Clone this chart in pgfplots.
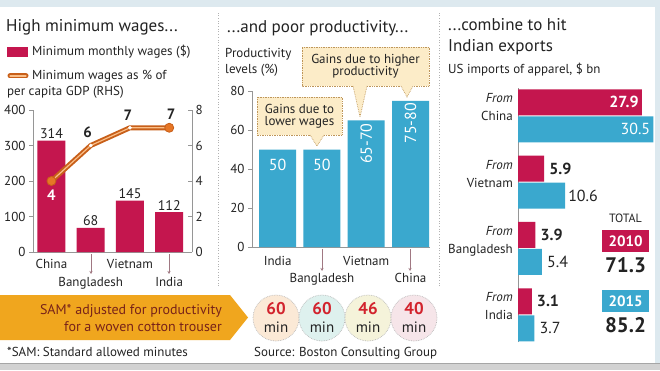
\documentclass[border=0pt]{standalone}
\usepackage{pgfplots}
\pgfplotsset{compat=1.18}
\usepackage{fontspec}
\setmainfont{PT Sans}
\usetikzlibrary{arrows.meta}
\definecolor{crim}{RGB}{196,22,78}
\definecolor{sky}{RGB}{58,168,206}
\definecolor{org}{RGB}{230,118,38}
\definecolor{orgd}{RGB}{200,95,25}
\definecolor{orgl}{RGB}{250,190,135}
\definecolor{gold}{RGB}{240,166,30}
\definecolor{cfill}{RGB}{252,236,200}
\definecolor{cbord}{RGB}{190,150,90}
\definecolor{axgray}{RGB}{150,150,150}
\definecolor{txt}{RGB}{35,35,35}
\definecolor{maroon}{RGB}{120,35,25}
\definecolor{redt}{RGB}{210,35,45}
\definecolor{framec}{RGB}{221,233,239}
\definecolor{arr}{RGB}{160,120,130}
\definecolor{c1}{RGB}{251,233,214}
\definecolor{c2}{RGB}{222,241,238}
\definecolor{c3}{RGB}{245,243,218}
\definecolor{c4}{RGB}{246,229,233}
\newcommand\fs[1]{\fontsize{#1}{#1}\selectfont}
\pgfplotsset{
  base/.style={scale only axis, clip=false,
    axis line style={axgray, line width=0.6pt},
    tick style={axgray, line width=0.6pt},
    major tick length=4pt,
    /pgf/number format/assume math mode=true,
    ticklabel style={font=\fs{13}, text=txt},
  }
}
\begin{document}
\begin{tikzpicture}[x=1pt,y=1pt]
\useasboundingbox (0,0) rectangle (660,370);
\fill[white] (0,0) rectangle (660,370);
% frame
\fill[framec] (0,363) rectangle (660,370);
\fill[framec] (655,0) rectangle (660,370);
\fill[gray!35] (0,0) rectangle (660,6);
\draw[gray!70, line width=0.8pt] (0,6.4)--(660,6.4);
% separators
\draw[gray!60, dotted, line width=0.7pt] (218,84)--(218,358);
\draw[gray!60, dotted, line width=0.7pt] (439,84)--(439,358);

% ---------- Panel 1 ----------
\node[anchor=base west, font=\fs{17}, text=txt, inner sep=0] at (6,338) {High minimum wages...};
\fill[crim] (7,313) rectangle (28,323);
\node[anchor=base west, font=\fs{13}, text=txt, inner sep=0] at (32,314) {Minimum monthly wages (\$)};
\draw[orgd, line width=5pt, line cap=round] (10,294)--(26,294);
\draw[orgl, line width=1.2pt, line cap=round] (10,294)--(26,294);
\node[anchor=base west, font=\fs{13}, text=txt, inner sep=0] at (32,290) {Minimum wages as \% of};
\node[anchor=base west, font=\fs{13}, text=txt, inner sep=0] at (7,274) {per capita GDP (RHS)};

\begin{axis}[base, at={(33pt,118pt)}, anchor=south west,
  width=159pt, height=142pt,
  xmin=-0.47, xmax=3.58, ymin=0, ymax=400,
  axis y line*=left, axis x line*=bottom,
  xtick=\empty, ytick={0,100,200,300,400}, tick align=outside,
  ybar, bar width=28pt,
  nodes near coords, every node near coord/.append style={font=\fs{14}, text=txt, inner sep=2pt},
]
\addplot[fill=crim, draw=none] coordinates {(0,314)(1,68)(2,145)(3,112)};
\node[anchor=base, font=\fs{13}, text=txt] at (axis cs:0,0) [yshift=-16pt] {China};
\node[anchor=base, font=\fs{13}, text=txt] at (axis cs:1,0) [yshift=-34pt] {Bangladesh};
\node[anchor=base, font=\fs{13}, text=txt] at (axis cs:2,0) [yshift=-16pt] {Vietnam};
\node[anchor=base, font=\fs{13}, text=txt] at (axis cs:3,0) [yshift=-34pt] {India};
\end{axis}
\begin{axis}[base, at={(33pt,118pt)}, anchor=south west,
  width=159pt, height=142pt,
  xmin=-0.47, xmax=3.58, ymin=0, ymax=8,
  axis y line*=right, axis x line=none,
  ytick={0,2,4,6,8}, tick align=inside,
]
\addplot[orgd, line width=5pt, line join=round] coordinates {(0,4)(1,6)(2,7)(3,7)};
\addplot[orgl, line width=1.2pt, line join=round] coordinates {(0,4)(1,6)(2,7)(3,7)};
\addplot[only marks, mark=*, mark size=4.5pt, mark options={fill=org, draw=orgd, line width=0.8pt}] coordinates {(0,4)(3,7)};
\addplot[only marks, mark=*, mark size=1.6pt, mark options={fill=white, draw=white}] coordinates {(1,6)(2,7)};
\node[anchor=north, font=\bfseries\fs{15}, text=white] at (axis cs:0,4) [yshift=-5pt] {4};
\node[anchor=south, font=\bfseries\fs{15}, text=txt] at (axis cs:1,6) [yshift=4pt, xshift=-3pt] {6};
\node[anchor=south, font=\bfseries\fs{15}, text=txt] at (axis cs:2,7) [yshift=4pt, xshift=-2pt] {7};
\node[anchor=south, font=\bfseries\fs{15}, text=txt] at (axis cs:3,7) [yshift=5pt, xshift=2pt] {7};
\end{axis}
\draw[arr, line width=0.6pt, -{Stealth[length=3pt,width=3pt]}] (91,116)--(91,96);
\draw[arr, line width=0.6pt, -{Stealth[length=3pt,width=3pt]}] (169,116)--(169,96);

% ---------- Panel 2 ----------
\node[anchor=base west, font=\fs{17}, text=txt, inner sep=0] at (227,337) {...and poor productivity...};
\node[anchor=base west, font=\fs{13}, text=txt, inner sep=0] at (225,312) {Productivity};
\node[anchor=base west, font=\fs{13}, text=txt, inner sep=0] at (225,296) {levels (\%)};
\begin{axis}[base, at={(252pt,123pt)}, anchor=south west,
  width=178pt, height=156pt,
  xmin=-0.58, xmax=3.44, ymin=0, ymax=80,
  axis y line*=left, axis x line*=bottom,
  xtick=\empty, ytick={0,20,40,60,80}, tick align=outside,
  ybar, bar width=37pt,
]
\addplot[fill=sky, draw=none] coordinates {(0,50)(1,50)(2,65)(3,75)};
\node[font=\fs{16}, text=white] at (axis cs:0,42) {50};
\node[font=\fs{16}, text=white] at (axis cs:1,42) {50};
\node[font=\fs{16}, text=white, rotate=90] at (axis cs:2,53) {65-70};
\node[font=\fs{16}, text=white, rotate=90] at (axis cs:3,63.5) {75-80};
\node[anchor=base, font=\fs{13}, text=txt] at (axis cs:0,0) [yshift=-18pt] {India};
\node[anchor=base, font=\fs{13}, text=txt] at (axis cs:1,0) [yshift=-35pt] {Bangladesh};
\node[anchor=base, font=\fs{13}, text=txt] at (axis cs:2,0) [yshift=-18pt] {Vietnam};
\node[anchor=base, font=\fs{13}, text=txt] at (axis cs:3,0) [yshift=-35pt] {China};
\end{axis}
\draw[arr, line width=0.6pt, -{Stealth[length=3pt,width=3pt]}] (322,121)--(322,99);
\draw[arr, line width=0.6pt, -{Stealth[length=3pt,width=3pt]}] (410,121)--(410,99);
% callouts
\fill[cfill] (257,235) rectangle (342,273);
\fill[cfill] (310,235)--(317,224)--(324,235)--cycle;
\draw[cbord, densely dotted, line width=0.7pt] (310,235)--(257,235)--(257,273)--(342,273)--(342,235)--(324,235);
\draw[cbord, densely dotted, line width=0.7pt] (310,235)--(317,224)--(324,235);
\node[align=center, font=\fs{13}, text=txt, inner sep=0] at (299.5,254) {Gains due to\\[-1pt]lower wages};
\fill[cfill] (302,284) rectangle (429,323);
\fill[cfill] (353,284)--(360,253)--(367,284)--cycle;
\fill[cfill] (401,284)--(407,273)--(413,284)--cycle;
\draw[cbord, densely dotted, line width=0.7pt] (353,284)--(302,284)--(302,323)--(429,323)--(429,284)--(413,284);
\draw[cbord, densely dotted, line width=0.7pt] (367,284)--(401,284);
\draw[cbord, densely dotted, line width=0.7pt] (353,284)--(360,253)--(367,284);
\draw[cbord, densely dotted, line width=0.7pt] (401,284)--(407,273)--(413,284);
\node[align=center, font=\fs{13}, text=txt, inner sep=0] at (365.5,303.5) {Gains due to higher\\[-1pt]productivity};

% ---------- Panel 3 ----------
\node[anchor=base west, font=\fs{17}, text=txt, inner sep=0] at (448,339) {...combine to hit};
\node[anchor=base west, font=\fs{17}, text=txt, inner sep=0] at (448,318) {Indian exports};
\node[anchor=base west, font=\fs{13}, text=txt, inner sep=0] at (448,296) {US imports of apparel, \$ bn};
\begin{axis}[base, at={(518pt,28pt)}, anchor=south west,
  width=137.6pt, height=254pt,
  xmin=0, xmax=31, ymin=-0.41, ymax=3.42,
  axis y line*=left, axis x line=none,
  xtick=\empty, ytick=\empty,
  xbar, bar width=26pt,
]
\addplot[fill=crim, draw=none, bar shift=13.5pt] coordinates {(27.9,3)(5.9,2)(3.9,1)(3.1,0)};
\addplot[fill=sky, draw=none, bar shift=-13.5pt] coordinates {(30.5,3)(10.6,2)(5.4,1)(3.7,0)};
\node[anchor=base east, font=\itshape\fs{13}, text=txt, inner sep=0] at (axis cs:0,3) [xshift=-5pt, yshift=13pt] {From};
\node[anchor=base east, font=\fs{13}, text=txt, inner sep=0] at (axis cs:0,3) [xshift=-5pt, yshift=-5pt] {China};
\node[anchor=base east, font=\itshape\fs{13}, text=txt, inner sep=0] at (axis cs:0,2) [xshift=-5pt, yshift=13pt] {From};
\node[anchor=base east, font=\fs{13}, text=txt, inner sep=0] at (axis cs:0,2) [xshift=-5pt, yshift=-5pt] {Vietnam};
\node[anchor=base east, font=\itshape\fs{13}, text=txt, inner sep=0] at (axis cs:0,1) [xshift=-5pt, yshift=13pt] {From};
\node[anchor=base east, font=\fs{13}, text=txt, inner sep=0] at (axis cs:0,1) [xshift=-5pt, yshift=-5pt] {Bangladesh};
\node[anchor=base east, font=\itshape\fs{13}, text=txt, inner sep=0] at (axis cs:0,0) [xshift=-5pt, yshift=13pt] {From};
\node[anchor=base east, font=\fs{13}, text=txt, inner sep=0] at (axis cs:0,0) [xshift=-5pt, yshift=-5pt] {India};
\node[anchor=east, font=\bfseries\fs{16}, text=white, inner sep=0] at (axis cs:27.9,3) [xshift=-3pt, yshift=13.5pt] {27.9};
\node[anchor=east, font=\fs{16}, text=white, inner sep=0] at (axis cs:30.5,3) [xshift=-3pt, yshift=-13.5pt] {30.5};
\node[anchor=west, font=\bfseries\fs{16}, text=txt, inner sep=0] at (axis cs:5.9,2) [xshift=5pt, yshift=13.5pt] {5.9};
\node[anchor=west, font=\fs{16}, text=txt, inner sep=0] at (axis cs:10.6,2) [xshift=3pt, yshift=-13.5pt] {10.6};
\node[anchor=west, font=\bfseries\fs{16}, text=txt, inner sep=0] at (axis cs:3.9,1) [xshift=5pt, yshift=13.5pt] {3.9};
\node[anchor=west, font=\fs{16}, text=txt, inner sep=0] at (axis cs:5.4,1) [xshift=5pt, yshift=-13.5pt] {5.4};
\node[anchor=west, font=\bfseries\fs{16}, text=txt, inner sep=0] at (axis cs:3.1,0) [xshift=5pt, yshift=13.5pt] {3.1};
\node[anchor=west, font=\fs{16}, text=txt, inner sep=0] at (axis cs:3.7,0) [xshift=5pt, yshift=-13.5pt] {3.7};
\end{axis}
% totals
\node[anchor=base, font=\fs{12}, text=txt, inner sep=0] at (625.5,148) {TOTAL};
\fill[crim] (602,118) rectangle (649,140);
\node[font=\bfseries\fs{15}, text=white] at (625.5,129) {2010};
\node[anchor=base, font=\bfseries\fs{21}, text=txt, inner sep=0] at (625.5,98) {71.3};
\fill[sky] (602,58) rectangle (649,80);
\node[font=\bfseries\fs{15}, text=white] at (625.5,69) {2015};
\node[anchor=base, font=\bfseries\fs{21}, text=txt, inner sep=0] at (625.5,38) {85.2};

% ---------- Bottom band ----------
\fill[gold] (0,30)--(230,30)--(248,52.5)--(230,75)--(0,75)--cycle;
\node[anchor=base east, font=\fs{14}, text=maroon, inner sep=0] at (222,56) {SAM* adjusted for productivity};
\node[anchor=base east, font=\fs{14}, text=maroon, inner sep=0] at (222,39) {for a woven cotton trouser};
\foreach \cx/\cc/\vv in {276/c1/60, 322/c2/60, 368/c3/46, 414/c4/40}{
  \filldraw[fill=\cc, draw=gray!55, densely dotted, line width=0.7pt] (\cx,52) circle (23);
  \node[anchor=base, font=\bfseries\fs{17}, text=redt, inner sep=0] at (\cx,56) {\vv};
  \node[anchor=base, font=\fs{15}, text=txt, inner sep=0] at (\cx,38) {min};
}
\node[anchor=base west, font=\fs{13}, text=txt, inner sep=0] at (7,14) {*SAM: Standard allowed minutes};
\node[anchor=base west, font=\fs{13}, text=txt, inner sep=0] at (254,14) {Source: Boston Consulting Group};
\end{tikzpicture}
\end{document}
